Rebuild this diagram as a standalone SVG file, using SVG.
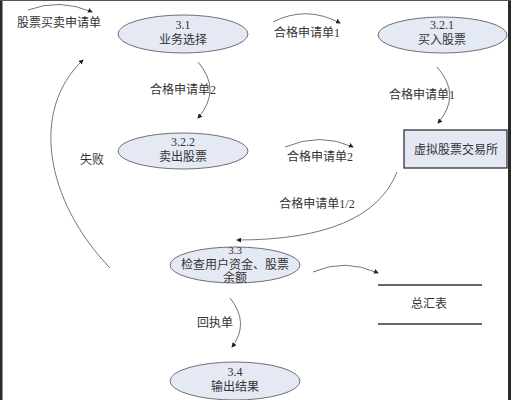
<svg xmlns="http://www.w3.org/2000/svg" width="511" height="400" viewBox="0 0 511 400">
<defs>
<marker id="ah" viewBox="0 0 6 6" refX="5" refY="3" markerWidth="5" markerHeight="5" orient="auto" markerUnits="userSpaceOnUse">
<path d="M0,0 L6,3 L0,6 z" fill="#222"/>
</marker>
<style>
.el{fill:#e5e9f4;stroke:#6f6f78;stroke-width:1}
.bx{fill:#e3e8f4;stroke:#333;stroke-width:1.3}
.t{font-family:"Liberation Serif","Noto Sans CJK SC",serif;font-size:12px;fill:#333;text-anchor:middle}
.s{font-size:11px}
.c{fill:none;stroke:#666;stroke-width:0.9;marker-end:url(#ah)}
.ln{stroke:#333;stroke-width:1.3}
</style>
</defs>
<rect x="0" y="0" width="511" height="400" fill="#fff"/>
<rect x="0" y="0" width="2.5" height="400" fill="#2a2a2a"/>
<rect x="508" y="0" width="3" height="400" fill="#2a2a2a"/>
<rect x="0" y="0" width="511" height="1" fill="#555"/>

<g id="n31">
<ellipse class="el" cx="183" cy="34" rx="65" ry="19"/>
<text class="t" x="183" y="29">3.1</text>
<text class="t" x="183" y="44">业务选择</text>
</g>
<g id="n321">
<ellipse class="el" cx="442.5" cy="35" rx="64.5" ry="18"/>
<text class="t" x="442" y="29">3.2.1</text>
<text class="t" x="442" y="44">买入股票</text>
</g>
<g id="n322">
<ellipse class="el" cx="183" cy="151" rx="65" ry="18"/>
<text class="t" x="183" y="146">3.2.2</text>
<text class="t" x="183" y="161">卖出股票</text>
</g>
<g id="exch">
<rect class="bx" x="404" y="130" width="103" height="38"/>
<text class="t" x="456" y="154">虚拟股票交易所</text>
</g>
<g id="n33">
<ellipse class="el" cx="235" cy="265" rx="65" ry="18"/>
<text class="t s" x="235" y="254">3.3</text>
<text class="t" x="235" y="269">检查用户资金、股票</text>
<text class="t" x="235" y="282">余额</text>
</g>
<g id="n34">
<ellipse class="el" cx="235" cy="381" rx="65" ry="19"/>
<text class="t" x="235" y="376">3.4</text>
<text class="t" x="235" y="391">输出结果</text>
</g>
<g id="summary">
<line class="ln" x1="378" y1="285" x2="482" y2="285"/>
<line class="ln" x1="378" y1="324" x2="482" y2="324"/>
<text class="t" x="429" y="308">总汇表</text>
</g>

<g id="connectors">
<path class="c" d="M28,10 Q60,-2 92,12"/>
<text class="t" x="59" y="27">股票买卖申请单</text>
<path class="c" d="M273,22 Q306,5 340,23"/>
<text class="t" x="307" y="37">合格申请单1</text>
<path class="c" d="M198,62 Q222,90 198,118"/>
<text class="t" x="183" y="94">合格申请单2</text>
<path class="c" d="M437,67 Q462,95 438,123"/>
<text class="t" x="422" y="99">合格申请单1</text>
<path class="c" d="M285,147 Q320,132 353,147"/>
<text class="t" x="320" y="161">合格申请单2</text>
<path class="c" d="M397,172 Q370,240 237,240"/>
<text class="t" x="317" y="208">合格申请单1/2</text>
<path class="c" d="M110,268 C45,200 30,110 83,60"/>
<text class="t" x="92" y="164">失败</text>
<path class="c" d="M313,272 Q345,258 378,273"/>
<path class="c" d="M230,298 Q250,323 232,347"/>
<text class="t" x="215" y="327">回执单</text>
</g>
</svg>
